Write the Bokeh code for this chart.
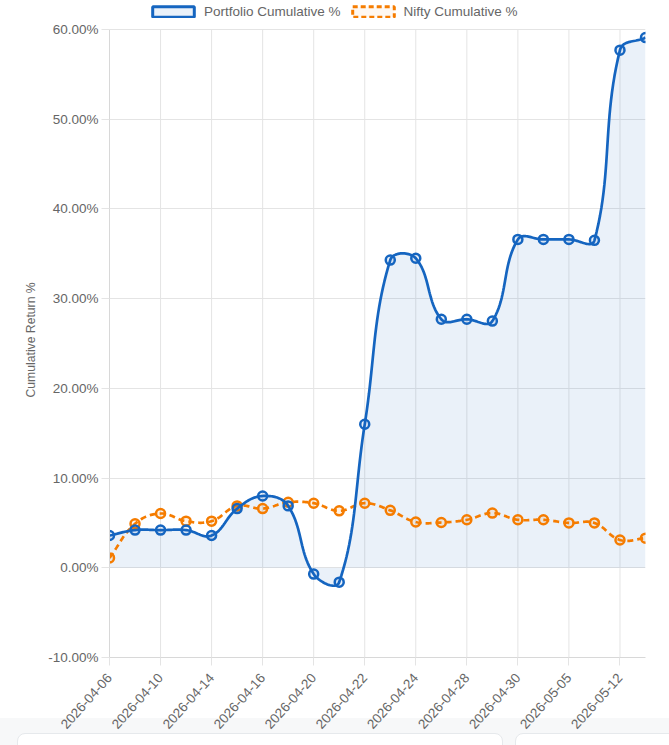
import math
from bokeh.plotting import figure
from bokeh.models import Range1d, FixedTicker, Legend, LegendItem, ColumnDataSource, Title
from bokeh.embed import file_html
from bokeh.resources import INLINE

# ---------------- data ----------------
dates = ["2026-04-06", "2026-04-08", "2026-04-10", "2026-04-13", "2026-04-14", "2026-04-15",
         "2026-04-16", "2026-04-17", "2026-04-20", "2026-04-21", "2026-04-22", "2026-04-23",
         "2026-04-24", "2026-04-27", "2026-04-28", "2026-04-29", "2026-04-30", "2026-05-04",
         "2026-05-05", "2026-05-08", "2026-05-12", "2026-05-13"]
portfolio = [3.6, 4.2, 4.2, 4.2, 3.6, 6.6, 8.0, 6.9, -0.7, -1.6, 16.0, 34.3,
             34.5, 27.7, 27.7, 27.5, 36.6, 36.6, 36.6, 36.5, 57.7, 59.1]
nifty = [1.1, 4.9, 6.05, 5.2, 5.2, 6.9, 6.6, 7.3, 7.2, 6.35, 7.2, 6.4,
         5.1, 5.05, 5.35, 6.1, 5.35, 5.35, 5.0, 5.0, 3.1, 3.3]
y_ticks = [-10, 0, 10, 20, 30, 40, 50, 60]
y_tick_labels = ["-10.00%", "0.00%", "10.00%", "20.00%", "30.00%", "40.00%", "50.00%", "60.00%"]
series_names = ["Portfolio Cumulative %", "Nifty Cumulative %"]
y_title = "Cumulative Return %"

# ---------------- layout constants ----------------
W, H = 669, 745
LEFT, RIGHT, TOP, BOTTOM = 109, 645, 29, 657   # plot-area pixels of the reference
YMIN, YMAX = y_ticks[0], y_ticks[-1]
n = len(dates)
sx = (RIGHT - LEFT) / (n - 1)
sy = (BOTTOM - TOP) / (YMAX - YMIN)
Y_TOP = YMAX + TOP / sy          # frame reaches the top edge so the legend can sit above 60 %

BLUE = "#1565c0"
ORANGE = "#f57c00"
GRID = "#e4e4e4"
TXT = "#666666"
FONT = "Liberation Sans"
FS = "13.5px"


def smooth(vals, t=0.4, steps=24):
    """Chart.js-style tension spline, evaluated in pixel space."""
    P = [(i * sx, v * sy) for i, v in enumerate(vals)]
    ctrl = []
    for i, cur in enumerate(P):
        prev = P[i - 1] if i > 0 else cur
        nxt = P[i + 1] if i < len(P) - 1 else cur
        d01 = math.hypot(cur[0] - prev[0], cur[1] - prev[1])
        d12 = math.hypot(nxt[0] - cur[0], nxt[1] - cur[1])
        tot = d01 + d12
        s01 = d01 / tot if tot else 0
        s12 = d12 / tot if tot else 0
        fa, fb = t * s01, t * s12
        cp = (cur[0] - fa * (nxt[0] - prev[0]), cur[1] - fa * (nxt[1] - prev[1]))
        cn = (cur[0] + fb * (nxt[0] - prev[0]), cur[1] + fb * (nxt[1] - prev[1]))
        clamp = lambda q: (min(max(q[0], 0), (n - 1) * sx), min(max(q[1], YMIN * sy), YMAX * sy))
        ctrl.append((clamp(cp), clamp(cn)))
    xs, ys = [], []
    for i in range(len(P) - 1):
        p0, p3 = P[i], P[i + 1]
        p1, p2 = ctrl[i][1], ctrl[i + 1][0]
        for k in range(steps + (1 if i == len(P) - 2 else 0)):
            u = k / steps
            a, b, c, d = (1 - u) ** 3, 3 * (1 - u) ** 2 * u, 3 * (1 - u) * u ** 2, u ** 3
            xs.append((a * p0[0] + b * p1[0] + c * p2[0] + d * p3[0]) / sx)
            ys.append((a * p0[1] + b * p1[1] + c * p2[1] + d * p3[1]) / sy)
    return xs, ys


px, py = smooth(portfolio)
nx, ny = smooth(nifty)
idx = list(range(n))
x_grid_ticks = list(range(0, n, 2))

p = figure(width=W, height=H, output_backend="svg", toolbar_location=None,
           x_range=Range1d(0, n - 1), y_range=Range1d(YMIN, Y_TOP),
           min_border_left=LEFT, min_border_right=W - RIGHT,
           min_border_top=0, min_border_bottom=H - BOTTOM)
p.border_fill_color = None
p.background_fill_color = None
p.outline_line_color = None

# grid: horizontal via ygrid, vertical lines limited to the value range
p.ygrid.grid_line_color = GRID
p.xgrid.visible = False
p.segment(x0=x_grid_ticks, x1=x_grid_ticks, y0=[YMIN] * len(x_grid_ticks),
          y1=[YMAX] * len(x_grid_ticks), line_color=GRID, line_width=1)

# fill under portfolio
p.varea(x=px, y1=[0] * len(px), y2=py, fill_color=BLUE, fill_alpha=0.09)

# lines and points
p.line(nx, ny, line_color=ORANGE, line_width=2.7, line_dash="6 4")
p.scatter(idx, nifty, size=9, line_color=ORANGE, line_width=2.5,
          fill_color=ORANGE, fill_alpha=0.1)
p.line(px, py, line_color=BLUE, line_width=2.7)
p.scatter(idx, portfolio, size=9, line_color=BLUE, line_width=2.5,
          fill_color=BLUE, fill_alpha=0.1)

# legend proxies (quads with no drawable geometry)
nan = float("nan")
proxy = ColumnDataSource(data=dict(l=[nan], r=[nan], t=[nan], b=[nan]))
q1 = p.quad(left="l", right="r", top="t", bottom="b", source=proxy,
            fill_color=BLUE, fill_alpha=0.09, line_color=BLUE, line_width=3)
q2 = p.quad(left="l", right="r", top="t", bottom="b", source=proxy,
            fill_color=ORANGE, fill_alpha=0.05, line_color=ORANGE, line_width=3,
            line_dash="5 3")
legend = Legend(items=[LegendItem(label=series_names[0], renderers=[q1]),
                       LegendItem(label=series_names[1], renderers=[q2])],
                orientation="horizontal", location=(38, BOTTOM - 19),
                glyph_width=52, glyph_height=13, label_standoff=5, spacing=6,
                padding=0, margin=0, border_line_color=None,
                background_fill_alpha=0,
                label_text_font=FONT, label_text_font_size=FS,
                label_text_color=TXT, label_height=14)
p.add_layout(legend, "center")

# axes
p.xaxis.ticker = FixedTicker(ticks=x_grid_ticks)
p.xaxis.major_label_overrides = {i: dates[i] for i in x_grid_ticks}
p.xaxis.major_label_orientation = math.radians(48)
p.yaxis.ticker = FixedTicker(ticks=y_ticks)
p.yaxis.major_label_overrides = dict(zip(y_ticks, y_tick_labels))
p.yaxis.bounds = (YMIN, YMAX)
for ax in (p.xaxis[0], p.yaxis[0]):
    ax.axis_line_color = "#d8d8d8"
    ax.major_tick_line_color = GRID
    ax.major_tick_out = 8
    ax.major_tick_in = 0
    ax.minor_tick_line_color = None
    ax.major_label_text_font = FONT
    ax.major_label_text_font_size = FS
    ax.major_label_text_color = TXT
    ax.major_label_standoff = 3
p.xaxis.major_label_standoff = 10

# y-axis title, placed as a left-side title so it can be centred on the value range
ytitle = Title(text=y_title, align="left", offset=260, text_font=FONT,
               text_font_size="12.2px", text_font_style="normal", text_color=TXT,
               standoff=16)
p.add_layout(ytitle, "left")

html = file_html(p, INLINE)
deco = ('<style>html,body{margin:0;padding:0;}'
        'body{background:linear-gradient(#ffffff 0,#ffffff 718px,#f7f8f9 718px);min-height:745px;}'
        '.deco-card{position:absolute;top:733px;height:60px;background:#ffffff;border:1px solid #e6e9ec;'
        'border-radius:8px;}</style>')
cards = ('<div class="deco-card" style="left:17px;width:484px;"></div>'
         '<div class="deco-card" style="left:515px;width:200px;"></div>')
html = html.replace("</head>", deco + "</head>", 1)
html = html.replace("</body>", cards + "</body>", 1)
open("out.html", "w").write(html)
